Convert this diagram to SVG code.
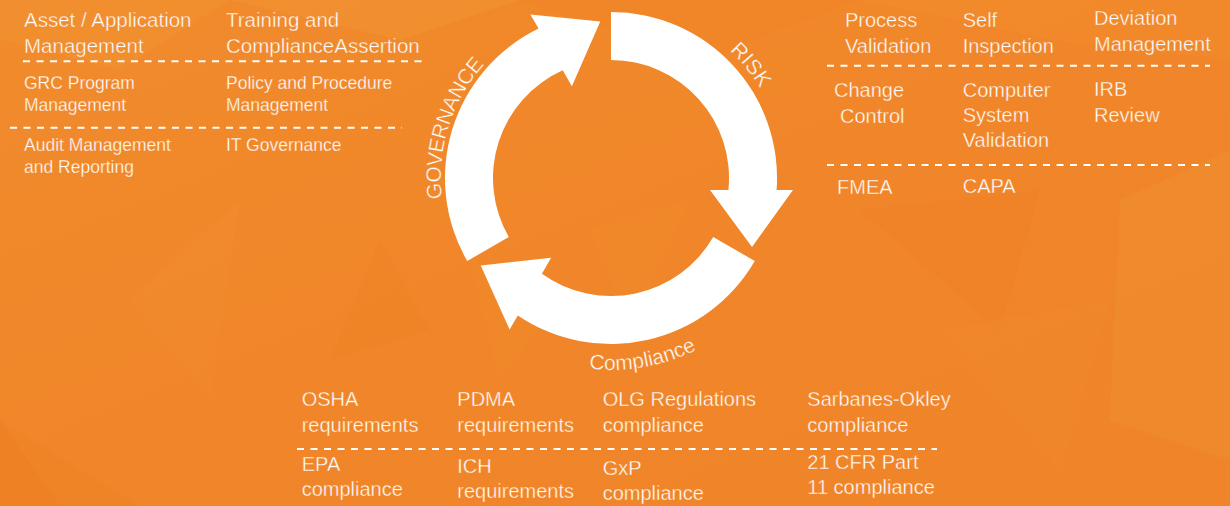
<svg xmlns="http://www.w3.org/2000/svg" width="1230" height="506" viewBox="0 0 1230 506">
  <style>
    .t { font-family: "Liberation Sans", Arial, sans-serif; fill: #ffffff; stroke: #F08728; stroke-width: 0.4px; }
    .lg { font-size: 20.5px; }
    .md { font-size: 20px; }
    .sm { font-size: 17.5px; stroke-width: 0.3px; }
    .cv { font-family: "Liberation Sans", Arial, sans-serif; fill: #ffffff; font-size: 21px; stroke: #F08728; stroke-width: 0.4px; }
    .dash { stroke: #ffffff; stroke-width: 2; stroke-dasharray: 7 6.5; fill: none; }
    .facet { stroke: none; }
  </style>
  <defs>
    <linearGradient id="bg" x1="0" y1="0" x2="1" y2="1">
      <stop offset="0" stop-color="#F18B2C"/>
      <stop offset="0.5" stop-color="#F08629"/>
      <stop offset="1" stop-color="#EF8528"/>
    </linearGradient>
    <path id="arrow" d="M 611,12 A 166 166 0 0 1 776.6,190 L 793,190 L 752,247 L 710,190 L 728.4,190 A 118 118 0 0 0 611,60 Z"/>
    <path id="pGov" d="M 445,214.8 A 170 170 0 0 1 496.1,52.7"/>
    <path id="pRisk" d="M 687.3,21.6 A 174 174 0 0 1 779.8,135.9"/>
    <path id="pComp" d="M 545.3,358.4 A 192 192 0 0 0 734.4,325.1"/>
  </defs>

  <!-- background -->
  <g id="background">
    <rect x="0" y="0" width="1230" height="506" fill="url(#bg)"/>
    <polygon class="facet" points="0,0 230,0 120,70 0,40" fill="#F39434" opacity="0.4"/>
    <polygon class="facet" points="230,0 520,0 400,40" fill="#F39737" opacity="0.35"/>
    <polygon class="facet" points="520,0 860,0 700,60" fill="#EE7F24" opacity="0.25"/>
    <polygon class="facet" points="860,0 1230,0 1230,60 1050,40" fill="#F39535" opacity="0.25"/>
    <polygon class="facet" points="1120,200 1230,150 1230,460 1110,420" fill="#F29433" opacity="0.35"/>
    <polygon class="facet" points="860,210 1040,190 1000,330" fill="#EE7D22" opacity="0.25"/>
    <polygon class="facet" points="0,420 60,506 0,506" fill="#EC7B20" opacity="0.5"/>
    <polygon class="facet" points="0,420 140,506 60,506" fill="#EE8024" opacity="0.3"/>
    <polygon class="facet" points="130,300 240,200 210,400" fill="#F29131" opacity="0.22"/>
    <polygon class="facet" points="470,260 560,300 500,380" fill="#F39434" opacity="0.18"/>
    <polygon class="facet" points="590,230 690,200 630,330" fill="#F29232" opacity="0.2"/>
    <polygon class="facet" points="380,240 430,330 330,360" fill="#ED7E23" opacity="0.2"/>
    <polygon class="facet" points="940,330 1110,300 1060,470" fill="#F29131" opacity="0.22"/>
  </g>

  <!-- cycle arrows -->
  <g id="connectors" fill="#ffffff">
    <use href="#arrow"/>
    <use href="#arrow" transform="rotate(120 611 178)"/>
    <use href="#arrow" transform="rotate(240 611 178)"/>
  </g>

  <g id="cycle-labels">
    <text class="cv" id="label-governance"><textPath href="#pGov" startOffset="50%" text-anchor="middle" textLength="145" lengthAdjust="spacing">GOVERNANCE</textPath></text>
    <text class="cv" id="label-risk"><textPath href="#pRisk" startOffset="50%" text-anchor="middle">RISK</textPath></text>
    <text class="cv" id="label-compliance"><textPath href="#pComp" startOffset="50%" text-anchor="middle">Compliance</textPath></text>
  </g>

  <!-- governance block (top-left) -->
  <g id="governance-items">
    <text class="t lg" x="24" y="27.3">Asset / Application<tspan x="24" y="53.3">Management</tspan></text>
    <text class="t lg" x="226" y="27.3">Training and<tspan x="226" y="53.3">ComplianceAssertion</tspan></text>
    <line class="dash" x1="23" y1="61.3" x2="423" y2="61.3"/>
    <text class="t sm" x="24" y="89.3">GRC Program<tspan x="24" y="111">Management</tspan></text>
    <text class="t sm" x="226" y="89.3">Policy and Procedure<tspan x="226" y="111">Management</tspan></text>
    <line class="dash" x1="10" y1="127.7" x2="402" y2="127.7"/>
    <text class="t sm" x="24" y="151">Audit Management<tspan x="24" y="172.7">and Reporting</tspan></text>
    <text class="t sm" x="226" y="151">IT Governance</text>
  </g>

  <!-- risk block (top-right) -->
  <g id="risk-items">
    <text class="t md" x="845" y="26.7">Process<tspan x="845" y="52.7">Validation</tspan></text>
    <text class="t md" x="962.7" y="27">Self<tspan x="962.7" y="53">Inspection</tspan></text>
    <text class="t md" x="1094" y="25">Deviation<tspan x="1094" y="50.7">Management</tspan></text>
    <line class="dash" x1="827" y1="65.7" x2="1210" y2="65.7"/>
    <text class="t md" x="834" y="96.7">Change<tspan x="840" y="122.7">Control</tspan></text>
    <text class="t md" x="962.7" y="96.7">Computer<tspan x="962.7" y="122">System</tspan><tspan x="962.7" y="147">Validation</tspan></text>
    <text class="t md" x="1094" y="96">IRB<tspan x="1094" y="121.7">Review</tspan></text>
    <line class="dash" x1="827" y1="165" x2="1210" y2="165"/>
    <text class="t md" x="837" y="194.3">FMEA</text>
    <text class="t md" x="962.7" y="192.7">CAPA</text>
  </g>

  <!-- compliance block (bottom) -->
  <g id="compliance-items">
    <text class="t md" x="301.7" y="406">OSHA<tspan x="301.7" y="431.7">requirements</tspan></text>
    <text class="t md" x="457.3" y="406">PDMA<tspan x="457.3" y="431.7">requirements</tspan></text>
    <text class="t md" x="602.7" y="406">OLG Regulations<tspan x="602.7" y="431.7">compliance</tspan></text>
    <text class="t md" x="807.3" y="406">Sarbanes-Okley<tspan x="807.3" y="431.7">compliance</tspan></text>
    <line class="dash" x1="297" y1="449" x2="937" y2="449"/>
    <text class="t md" x="301.7" y="470.7">EPA<tspan x="301.7" y="496">compliance</tspan></text>
    <text class="t md" x="457.3" y="473.3">ICH<tspan x="457.3" y="498.3">requirements</tspan></text>
    <text class="t md" x="602.7" y="475">GxP<tspan x="602.7" y="500">compliance</tspan></text>
    <text class="t md" x="807.3" y="469.3">21 CFR Part<tspan x="807.3" y="494.3">11 compliance</tspan></text>
  </g>
</svg>
